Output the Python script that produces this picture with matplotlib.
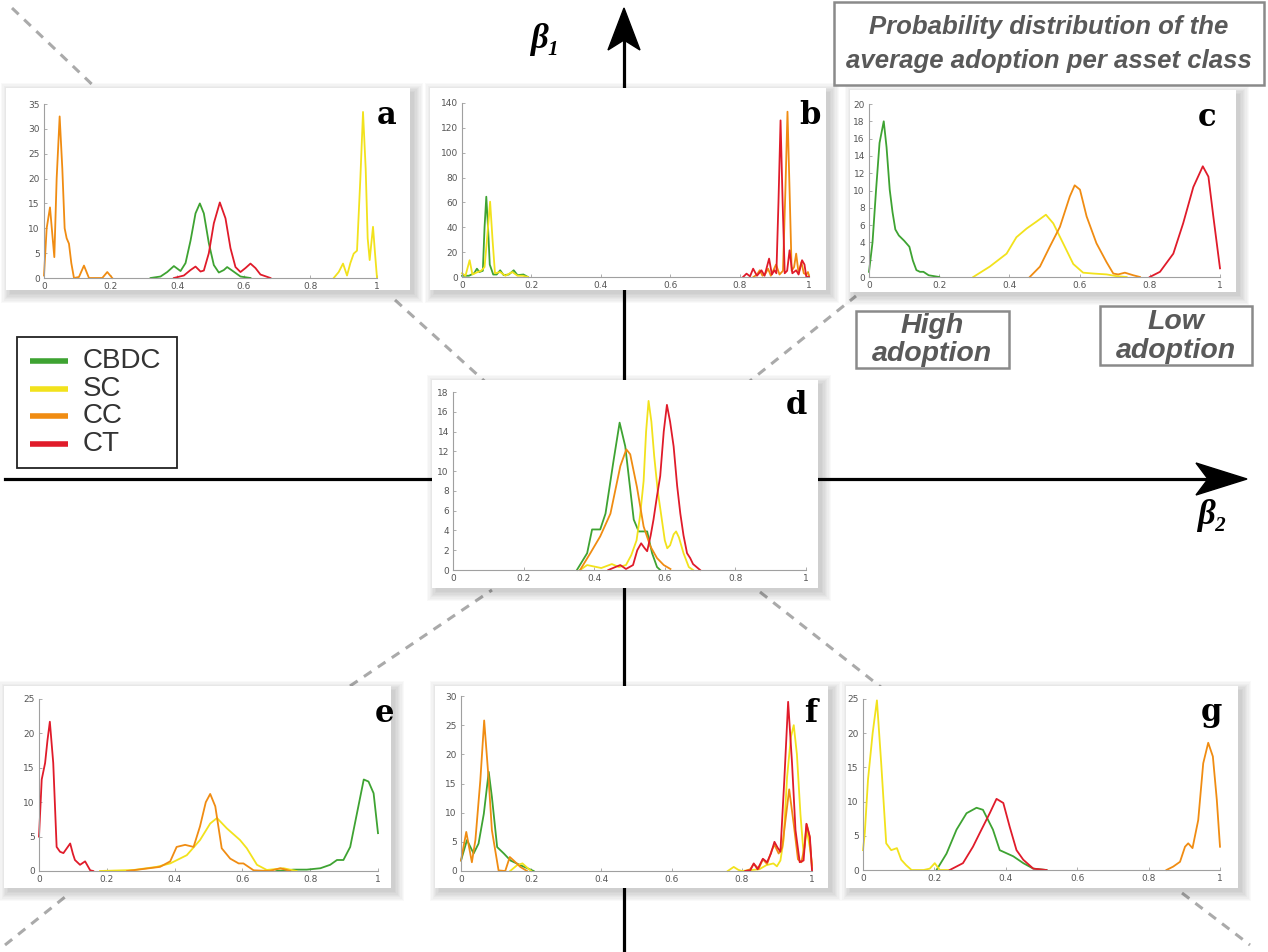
import numpy as np
import matplotlib
matplotlib.use('Agg')
import matplotlib.pyplot as plt
from matplotlib.patches import Rectangle, Polygon

nan = np.nan

#%% data
series_names = ['CBDC', 'SC', 'CC', 'CT']
series_colors = ['#3ea332', '#f2e21c', '#f08c12', '#e01b2a']
x_ticks = [0, 0.2, 0.4, 0.6, 0.8, 1]
x_tick_labels = ['0', '0.2', '0.4', '0.6', '0.8', '1']
panel_names = ['a', 'b', 'c', 'd', 'e', 'f', 'g']
y_top = [35, 140, 20, 18, 25, 30, 25]
y_step = [5, 20, 2, 2, 5, 5, 5]

# a
a_cbdc_x = [0.32, 0.35, 0.37, 0.39, 0.41, 0.425, 0.44, 0.455, 0.468, 0.48, 0.495, 0.51, 0.525, 0.54, 0.55, 0.565, 0.59, 0.62]
a_cbdc_y = [0, 0.3, 1.2, 2.4, 1.4, 3.0, 7.5, 13.0, 15.0, 13.0, 7.0, 2.6, 1.1, 1.6, 2.2, 1.5, 0.3, 0]
a_sc_x = [0.87, 0.885, 0.898, 0.91, 0.92, 0.93, 0.94, 0.95, 0.958, 0.966, 0.972, 0.978, 0.983, 0.988, 0.994, 1.0]
a_sc_y = [0, 1.2, 2.9, 0.5, 3.0, 4.9, 5.5, 20.0, 33.4, 22.0, 8.0, 3.6, 7.0, 10.3, 5.0, 0]
a_cc_x = [0.0, 0.008, 0.018, 0.026, 0.031, 0.038, 0.047, 0.055, 0.062, 0.068, 0.075, 0.082, 0.09, 0.105, 0.12, 0.135, 0.175, 0.19, 0.205]
a_cc_y = [0.5, 10, 14.2, 8, 4.2, 20, 32.5, 22, 10, 8, 6.9, 3, 0, 0.2, 2.5, 0, 0, 1.2, 0]
a_ct_x = [0.39, 0.42, 0.44, 0.455, 0.47, 0.48, 0.495, 0.51, 0.528, 0.545, 0.56, 0.575, 0.59, 0.605, 0.62, 0.635, 0.65, 0.68]
a_ct_y = [0, 0.5, 1.6, 2.3, 1.3, 1.5, 5, 11, 15.2, 12, 6, 2.2, 1.2, 2, 2.9, 2, 0.7, 0]

# b
b_cbdc_x = [0, 0.02, 0.035, 0.043, 0.05, 0.06, 0.065, 0.07, 0.075, 0.08, 0.09, 0.1, 0.11, 0.12, 0.135, 0.149, 0.16, 0.177, 0.19]
b_cbdc_y = [1, 1, 3, 6.7, 4, 5, 40, 64.6, 40, 10, 2, 2, 5.4, 1.5, 2, 5.4, 1.5, 2, 0]
b_sc_x = [0, 0.01, 0.022, 0.03, 0.045, 0.055, 0.065, 0.072, 0.081, 0.088, 0.095, 0.11, 0.125, 0.145, 0.16, 0.175, 0.19]
b_sc_y = [3, 1, 13.5, 2, 4, 5, 8, 30, 60.6, 30, 3, 4, 1, 4, 1, 1, 0]
b_cc_x = [0.84, 0.85, 0.858, 0.866, 0.875, 0.882, 0.89, 0.905, 0.915, 0.925, 0.932, 0.938, 0.944, 0.95, 0.957, 0.963, 0.97, 0.978, 0.985, 0.992, 0.997, 1.0]
b_cc_y = [0, 2, 5.4, 1, 3, 6.7, 1, 10, 2, 5, 70, 133, 70, 5, 8, 18.8, 3, 12, 3, 2, 4, 1]
b_ct_x = [0.81, 0.82, 0.83, 0.839, 0.85, 0.863, 0.872, 0.885, 0.893, 0.9, 0.906, 0.912, 0.918, 0.924, 0.93, 0.937, 0.944, 0.952, 0.963, 0.97, 0.98, 0.987, 0.992, 1.0]
b_ct_y = [0, 2.7, 0.5, 6.7, 1, 5.4, 1, 14.8, 2, 5.4, 3, 60, 126, 60, 3, 5, 21.5, 3, 5.4, 2, 13.5, 10, 0.5, 0]

# c
c_cbdc_x = [0, 0.01, 0.02, 0.03, 0.042, 0.05, 0.059, 0.067, 0.075, 0.085, 0.1, 0.115, 0.125, 0.135, 0.145, 0.155, 0.17, 0.2]
c_cbdc_y = [0.6, 4, 10, 15.5, 18, 15, 10.1, 7.5, 5.5, 4.8, 4.2, 3.5, 1.9, 0.8, 0.6, 0.6, 0.2, 0]
c_sc_x = [0.297, 0.344, 0.392, 0.42, 0.449, 0.477, 0.504, 0.525, 0.553, 0.582, 0.61, 0.639, 0.677, 0.705, 0.734]
c_sc_y = [0, 1.2, 2.7, 4.6, 5.6, 6.4, 7.2, 6.2, 3.9, 1.5, 0.5, 0.4, 0.3, 0.1, 0]
c_cc_x = [0.458, 0.487, 0.515, 0.544, 0.572, 0.586, 0.601, 0.62, 0.648, 0.677, 0.696, 0.71, 0.729, 0.753, 0.772]
c_cc_y = [0, 1.2, 3.5, 5.8, 9.3, 10.6, 10.1, 7.0, 3.9, 1.7, 0.4, 0.3, 0.5, 0.2, 0]
c_ct_x = [0.8, 0.829, 0.867, 0.895, 0.924, 0.951, 0.967, 0.981, 1.0]
c_ct_y = [0, 0.6, 2.7, 6.2, 10.4, 12.8, 11.6, 7.0, 1.0]

# d
d_cbdc_x = [0.351, 0.38, 0.394, 0.417, 0.432, 0.455, 0.472, 0.488, 0.512, 0.526, 0.55, 0.564, 0.578, 0.587]
d_cbdc_y = [0, 1.7, 4.1, 4.1, 5.7, 11.1, 14.9, 12.5, 5.1, 3.9, 3.9, 1.7, 0.3, 0]
d_sc_x = [0.36, 0.38, 0.42, 0.45, 0.47, 0.49, 0.505, 0.52, 0.53, 0.54, 0.547, 0.554, 0.562, 0.57, 0.58, 0.59, 0.6, 0.607, 0.615, 0.625, 0.632, 0.64, 0.653, 0.668, 0.68]
d_sc_y = [0, 0.5, 0.2, 0.6, 0.3, 0.5, 1.5, 3.0, 5.5, 9, 14, 17.1, 15, 11.5, 8, 5.5, 3, 2.2, 2.5, 3.6, 3.9, 3.3, 1.7, 0.3, 0]
d_cc_x = [0.36, 0.389, 0.417, 0.446, 0.474, 0.491, 0.502, 0.521, 0.54, 0.559, 0.578, 0.597, 0.616]
d_cc_y = [0, 1.7, 3.4, 5.7, 10.5, 12.2, 11.7, 8.4, 4.4, 2.4, 1.2, 0.5, 0.1]
d_ct_x = [0.44, 0.46, 0.474, 0.49, 0.51, 0.522, 0.533, 0.543, 0.55, 0.56, 0.568, 0.578, 0.587, 0.597, 0.606, 0.615, 0.625, 0.635, 0.644, 0.653, 0.663, 0.672, 0.68, 0.7]
d_ct_y = [0, 0.3, 0.5, 0.1, 0.5, 2, 2.7, 2.2, 1.9, 3.5, 5.1, 7.5, 9.5, 14, 16.7, 15, 12.5, 8.5, 5.7, 3.5, 1.7, 1.2, 0.6, 0]

# e
e_cbdc_x = [0.70, 0.751, 0.79, 0.83, 0.859, 0.879, 0.898, 0.918, 0.938, 0.958, 0.972, 0.987, 1.0]
e_cbdc_y = [0, 0.2, 0.2, 0.4, 0.9, 1.6, 1.6, 3.5, 8.4, 13.3, 13.0, 11.3, 5.5]
e_sc_x = [0.18, 0.28, 0.347, 0.387, 0.436, 0.475, 0.505, 0.525, 0.554, 0.593, 0.613, 0.643, 0.672, 0.721, 0.76]
e_sc_y = [0, 0.15, 0.6, 1.1, 2.3, 4.5, 6.9, 7.7, 6.2, 4.5, 3.3, 0.9, 0.15, 0.4, 0]
e_cc_x = [0.26, 0.357, 0.387, 0.406, 0.431, 0.456, 0.475, 0.492, 0.505, 0.52, 0.539, 0.564, 0.589, 0.603, 0.633, 0.68, 0.712, 0.741]
e_cc_y = [0, 0.6, 1.4, 3.5, 3.8, 3.5, 6.5, 10, 11.2, 9.4, 3.3, 1.8, 1.1, 1.1, 0.1, 0, 0.4, 0]
e_ct_x = [0, 0.008, 0.018, 0.025, 0.032, 0.042, 0.052, 0.062, 0.072, 0.082, 0.092, 0.1, 0.106, 0.121, 0.136, 0.151, 0.16]
e_ct_y = [5.0, 13.3, 15.7, 19, 21.7, 15.7, 3.5, 2.8, 2.6, 3.3, 4.0, 2.5, 1.6, 0.9, 1.4, 0.1, 0]

# f
f_cbdc_x = [0, 0.017, 0.036, 0.05, 0.065, 0.079, 0.088, 0.103, 0.122, 0.141, 0.169, 0.207]
f_cbdc_y = [1.8, 5.3, 3.0, 4.7, 9.8, 17.0, 12.7, 4.1, 3.0, 1.8, 1.0, 0]
f_sc_x = [0.14, 0.16, 0.175, 0.19, 0.2, nan, 0.76, 0.777, 0.79, 0.8, 0.85, 0.87, 0.89, 0.9, 0.91, 0.919, 0.929, 0.94, 0.948, 0.957, 0.967, 0.976, 0.985, 0.994, 1.0]
f_sc_y = [0, 1.0, 1.3, 0.5, 0, nan, 0, 0.7, 0.2, 0, 0.3, 1.0, 1.3, 0.8, 1.8, 5.3, 16.1, 23, 25, 20, 9.8, 3, 7, 4, 1]
f_cc_x = [0, 0.015, 0.031, 0.041, 0.055, 0.066, 0.079, 0.088, 0.107, 0.126, 0.139, 0.15, 0.169, 0.188, nan,
          0.81, 0.824, 0.834, 0.848, 0.86, 0.872, 0.885, 0.893, 0.905, 0.915, 0.925, 0.935, 0.948, 0.96, 0.97, 0.978, 0.985, 0.993, 1.0]
f_cc_y = [1.8, 6.7, 1.5, 5.3, 15.5, 25.8, 15.5, 7.0, 0.1, 0, 2.4, 1.8, 0.7, 0, nan,
          0, 0.3, 1.2, 0.4, 2.0, 1.2, 3.5, 4.5, 3.0, 4.0, 9, 14, 8, 2, 1.5, 4, 8, 6, 0.5]
f_ct_x = [0.81, 0.824, 0.834, 0.845, 0.86, 0.872, 0.883, 0.893, 0.902, 0.91, 0.921, 0.932, 0.943, 0.953, 0.965, 0.976, 0.984, 0.994, 1.0]
f_ct_y = [0, 0.1, 1.3, 0.3, 2.1, 1.5, 3.0, 5.0, 4.0, 3.3, 15.5, 29.0, 18.6, 7.0, 1.5, 1.8, 8.1, 5.8, 0.1]

# g
g_cbdc_x = [0.206, 0.234, 0.262, 0.29, 0.318, 0.336, 0.364, 0.383, 0.421, 0.449, 0.477, 0.514]
g_cbdc_y = [0, 2.4, 5.9, 8.3, 9.1, 8.8, 5.9, 2.9, 2.0, 1.0, 0.2, 0]
g_sc_x = [0, 0.005, 0.014, 0.027, 0.039, 0.051, 0.065, 0.079, 0.095, 0.107, 0.121, 0.136, 0.17, 0.187, 0.201, 0.215, 0.24]
g_sc_y = [2.9, 5.4, 13.2, 20, 24.8, 15.6, 3.9, 2.9, 3.2, 1.5, 0.7, 0, 0, 0.2, 1.0, 0, 0]
g_cc_x = [0.85, 0.869, 0.888, 0.902, 0.911, 0.923, 0.939, 0.953, 0.967, 0.98, 0.991, 1.0]
g_cc_y = [0, 0.5, 1.2, 3.4, 3.9, 3.2, 7.3, 15.6, 18.6, 16.6, 10.3, 3.4]
g_ct_x = [0.243, 0.28, 0.308, 0.327, 0.355, 0.374, 0.393, 0.411, 0.43, 0.449, 0.477, 0.514]
g_ct_y = [0, 1.0, 3.4, 5.4, 8.3, 10.4, 9.8, 6.3, 2.9, 1.5, 0.2, 0]

curves = {
    'a': [(a_cbdc_x, a_cbdc_y), (a_sc_x, a_sc_y), (a_cc_x, a_cc_y), (a_ct_x, a_ct_y)],
    'b': [(b_cbdc_x, b_cbdc_y), (b_sc_x, b_sc_y), (b_cc_x, b_cc_y), (b_ct_x, b_ct_y)],
    'c': [(c_cbdc_x, c_cbdc_y), (c_sc_x, c_sc_y), (c_cc_x, c_cc_y), (c_ct_x, c_ct_y)],
    'd': [(d_cbdc_x, d_cbdc_y), (d_sc_x, d_sc_y), (d_cc_x, d_cc_y), (d_ct_x, d_ct_y)],
    'e': [(e_cbdc_x, e_cbdc_y), (e_sc_x, e_sc_y), (e_cc_x, e_cc_y), (e_ct_x, e_ct_y)],
    'f': [(f_cbdc_x, f_cbdc_y), (f_sc_x, f_sc_y), (f_cc_x, f_cc_y), (f_ct_x, f_ct_y)],
    'g': [(g_cbdc_x, g_cbdc_y), (g_sc_x, g_sc_y), (g_cc_x, g_cc_y), (g_ct_x, g_ct_y)],
}

#%% layout, in pixels of the 1268x952 canvas
W, H = 1268, 952
# axes data area: x0, y0, x1, y1
axes_px = {
    'a': (44, 104, 377, 278), 'b': (462, 103, 809, 277), 'c': (869, 104, 1220, 277),
    'd': (453, 392, 806, 570),
    'e': (39, 699, 378, 871), 'f': (461, 696, 812, 871), 'g': (863, 699, 1220, 870),
}
# white cards behind each plot
cards_px = {
    'a': (6, 88, 410, 290), 'b': (430, 88, 826, 290), 'c': (850, 90, 1236, 292),
    'd': (432, 380, 818, 588),
    'e': (4, 686, 391, 888), 'f': (435, 686, 828, 888), 'g': (846, 686, 1238, 888),
}
letter_px = {
    'a': (387, 116), 'b': (810, 116), 'c': (1207, 118), 'd': (796, 406),
    'e': (385, 713), 'f': (811, 713), 'g': (1211, 712),
}

fig = plt.figure(figsize=(W / 100, H / 100), dpi=100)
bg = fig.add_axes([0, 0, 1, 1])
bg.set_xlim(0, W)
bg.set_ylim(H, 0)
bg.axis('off')

# dashed guide lines between panels
dashes = [((12, 8), (100, 92)), ((395, 300), (492, 388)), ((745, 385), (856, 296)),
          ((350, 686), (492, 590)), ((760, 592), (882, 688)),
          ((5, 945), (70, 893)), ((1182, 893), (1250, 945))]
for p0, p1 in dashes:
    bg.plot([p0[0], p1[0]], [p0[1], p1[1]], color='#aaaaaa', lw=2.2,
            ls=(0, (3, 2.5)), zorder=2)

# beta axes
bg.plot([624, 624], [950, 40], color='black', lw=2.3, zorder=2)
bg.add_patch(Polygon([(624, 8), (640, 50), (624, 40), (608, 50)], closed=True,
                     color='black', zorder=2))
bg.plot([5, 1205], [479, 479], color='black', lw=2.3, zorder=2)
bg.add_patch(Polygon([(1247, 479), (1196, 463), (1208, 479), (1196, 495)], closed=True,
                     color='black', zorder=2))
serif = ['Liberation Serif', 'DejaVu Serif']
bg.text(545, 40, 'β₁', fontsize=25, family=serif, weight='bold', style='italic',
        ha='center', va='center', zorder=6)
bg.text(1212, 516, 'β₂', fontsize=25, family=serif, weight='bold', style='italic',
        ha='center', va='center', zorder=6)

# cards with soft shadow, heavier towards bottom right
for name in panel_names:
    x0, y0, x1, y1 = cards_px[name]
    for k in range(8):
        g = k * 1.3
        bg.add_patch(Rectangle((x0 - g + 4, y0 - g + 4), (x1 - x0) + 2 * g, (y1 - y0) + 2 * g,
                               facecolor='black', alpha=0.022, lw=0, zorder=3))
    bg.add_patch(Rectangle((x0, y0), x1 - x0, y1 - y0, facecolor='white', lw=0, zorder=4))

# boxes with explanatory text
box_style = dict(facecolor='white', edgecolor='#8a8a8a', lw=1.8, zorder=5)
txt_style = dict(family=['Liberation Sans', 'DejaVu Sans'], weight='bold', style='italic',
                 color='#595959', ha='center', va='center', zorder=6)
bg.add_patch(Rectangle((834, 2), 430, 83, **box_style))
bg.text(1049, 27, 'Probability distribution of the', fontsize=18.5, **txt_style)
bg.text(1049, 61, 'average adoption per asset class', fontsize=18.5, **txt_style)
bg.add_patch(Rectangle((856, 311), 153, 57, **box_style))
bg.text(932, 326, 'High', fontsize=20.5, **txt_style)
bg.text(932, 354, 'adoption', fontsize=20.5, **txt_style)
bg.add_patch(Rectangle((1100, 306), 152, 59, **box_style))
bg.text(1176, 322, 'Low', fontsize=20.5, **txt_style)
bg.text(1176, 351, 'adoption', fontsize=20.5, **txt_style)

# legend
bg.add_patch(Rectangle((17, 337), 160, 131, facecolor='white', edgecolor='#222222',
                       lw=1.3, zorder=5))
for i, (lab, col) in enumerate(zip(series_names, series_colors)):
    yy = 361 + i * 27.7
    bg.plot([30, 68], [yy, yy], color=col, lw=4, solid_capstyle='butt', zorder=6)
    bg.text(83, yy, lab, fontsize=20, family=['Liberation Sans', 'DejaVu Sans'],
            color='#333333', ha='left', va='center', zorder=6)

# panel letters
for name in panel_names:
    lx, ly = letter_px[name]
    bg.text(lx, ly, name, fontsize=22, family='DejaVu Serif', weight='bold',
            ha='center', va='center', zorder=8)

#%% the seven density plots
for i, name in enumerate(panel_names):
    x0, y0, x1, y1 = axes_px[name]
    ax = fig.add_axes([x0 / W, 1 - y1 / H, (x1 - x0) / W, (y1 - y0) / H])
    ax.patch.set_alpha(0)
    for (xs, ys), col in zip(curves[name], series_colors):
        ax.plot(xs, ys, color=col, lw=1.3, clip_on=False, solid_joinstyle='round')
    ax.set_xlim(0, 1)
    ax.set_ylim(0, y_top[i])
    ax.set_xticks(x_ticks, x_tick_labels)
    ax.set_yticks(np.arange(0, y_top[i] + 0.1, y_step[i]))
    for s in ['top', 'right']:
        ax.spines[s].set_visible(False)
    for s in ['left', 'bottom']:
        ax.spines[s].set_color('#a0a0a0')
        ax.spines[s].set_linewidth(0.8)
    ax.tick_params(direction='in', length=2.5, width=0.6, color='#a0a0a0',
                   labelsize=6.5, labelcolor='#555555', pad=3)

fig.savefig('out.png', dpi=100)
